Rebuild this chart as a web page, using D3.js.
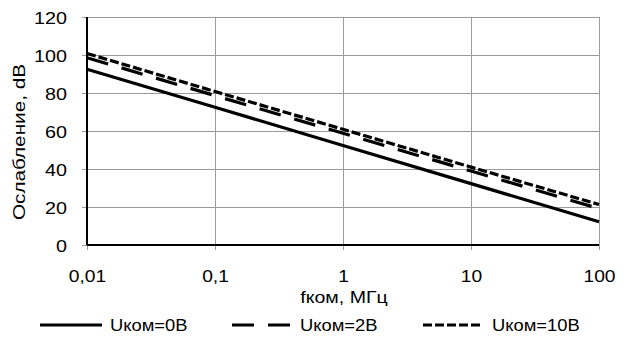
<!DOCTYPE html>
<html><head><meta charset="utf-8">
<script src="https://cdn.jsdelivr.net/npm/d3@7"></script>
<style>
body{margin:0;background:#fff;}
svg{display:block;font-family:"Liberation Sans",Arial,sans-serif;}
</style></head>
<body><svg id="c" width="630" height="338"></svg>
<script>
const freqs = [0.01, 0.1, 1, 10, 100];
const u0 = [92.5, 72.5, 52.4, 32.3, 12.2];
const u2 = [98.6, 78.6, 58.8, 38.9, 19.2];
const u10 = [100.8, 80.8, 60.9, 41.0, 21.3];
const xTicks = [0.01, 0.1, 1, 10, 100];
const xTickLabels = ["0,01", "0,1", "1", "10", "100"];
const yTicks = [0, 20, 40, 60, 80, 100, 120];
const seriesNames = ["Uком=0В", "Uком=2В", "Uком=10В"];
const xTitle = "fком, МГц";
const yTitle = "Ослабление, dB";

const svg = d3.select("#c");
const L = 87, R = 599, T = 17, B = 245;
const x = d3.scaleLog().domain([0.01, 100]).range([L, R]);
const y = d3.scaleLinear().domain([0, 120]).range([B, T]);
const grid = "#9a9a9a";
const fs = 17;

function stretch(sel, f) {
  sel.each(function() {
    const w = this.getComputedTextLength();
    d3.select(this).attr("textLength", w * f).attr("lengthAdjust", "spacingAndGlyphs");
  });
}

// gridlines
svg.append("g").selectAll("line").data(yTicks.filter(d => d > 0)).join("line")
  .attr("x1", L).attr("x2", R).attr("y1", d => y(d)).attr("y2", d => y(d))
  .attr("stroke", grid).attr("stroke-width", 1).attr("shape-rendering", "crispEdges");
svg.append("g").selectAll("line").data(xTicks.slice(1)).join("line")
  .attr("x1", d => x(d)).attr("x2", d => x(d)).attr("y1", T).attr("y2", B)
  .attr("stroke", grid).attr("stroke-width", 1).attr("shape-rendering", "crispEdges");

// axes
const xAxis = d3.axisBottom(x).tickValues(xTicks).tickFormat((d, i) => xTickLabels[i]).tickSize(5).tickSizeOuter(0);
const gx = svg.append("g").attr("transform", `translate(0,${B})`).call(xAxis);
gx.select(".domain").remove();
gx.selectAll(".tick line").attr("stroke", grid);
gx.selectAll(".tick text").attr("font-size", fs).attr("font-family", "Liberation Sans, Arial").attr("fill", "#000").attr("dy", null).attr("y", 37);
stretch(gx.selectAll(".tick text"), 1.13);

const yAxis = d3.axisLeft(y).tickValues(yTicks).tickSize(5).tickSizeOuter(0);
const gy = svg.append("g").attr("transform", `translate(${L},0)`).call(yAxis);
gy.select(".domain").remove();
gy.selectAll(".tick line").attr("stroke", grid);
gy.selectAll(".tick text").attr("font-size", fs).attr("font-family", "Liberation Sans, Arial").attr("fill", "#000").attr("x", -20).attr("dy", "0.4em");
stretch(gy.selectAll(".tick text"), 1.16);

// axis lines
svg.append("line").attr("x1", L).attr("x2", L).attr("y1", T).attr("y2", B).attr("stroke", "#000").attr("stroke-width", 2);
svg.append("line").attr("x1", L).attr("x2", R).attr("y1", B).attr("y2", B).attr("stroke", "#000").attr("stroke-width", 2);

// series
const dashes = [null, "22,14", "9,3"];
const data = [u0, u2, u10];
const line = d3.line().x((d, i) => x(freqs[i])).y(d => y(d));
data.forEach((s, k) => {
  svg.append("path").datum(s).attr("d", line).attr("fill", "none")
    .attr("stroke", "#000").attr("stroke-width", 3.2)
    .attr("stroke-dasharray", dashes[k]);
});

// titles
const xt = svg.append("text").attr("x", 344).attr("y", 303).attr("text-anchor", "middle")
  .attr("font-size", fs).text(xTitle);
stretch(xt, 1.15);
const yt = svg.append("text").attr("transform", `translate(25,142) rotate(-90)`)
  .attr("text-anchor", "middle").attr("font-size", fs).text(yTitle);
stretch(yt, 1.22);

// legend
const legX = [40, 232, 423];
const legW = [62, 58, 60];
const legText = [110, 300, 492];
seriesNames.forEach((n, k) => {
  svg.append("line").attr("x1", legX[k]).attr("x2", legX[k] + legW[k]).attr("y1", 325).attr("y2", 325)
    .attr("stroke", "#000").attr("stroke-width", 3.2).attr("stroke-dasharray", dashes[k]);
  const t = svg.append("text").attr("x", legText[k]).attr("y", 331).attr("font-size", fs).text(n);
  stretch(t, 1.08);
});
</script></body></html>
